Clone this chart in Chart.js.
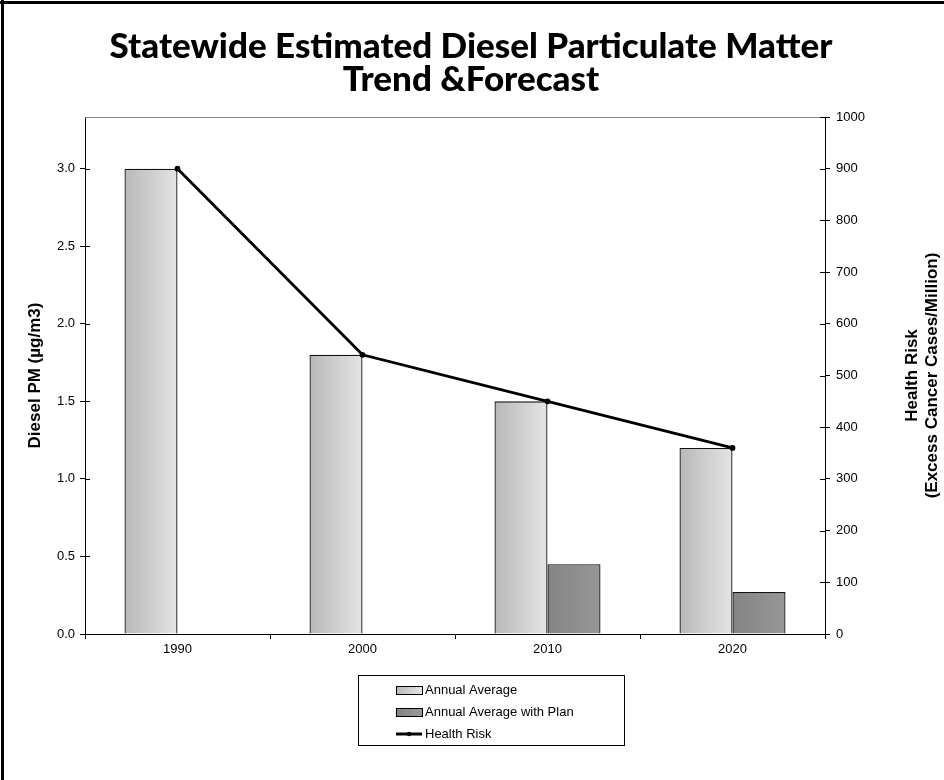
<!DOCTYPE html>
<html>
<head>
<meta charset="utf-8">
<script src="https://cdn.jsdelivr.net/npm/chart.js@4.4.1/dist/chart.umd.min.js"></script>
<style>
  html, body { margin: 0; padding: 0; background: #fff; }
  #wrap { position: relative; width: 944px; height: 780px; }
</style>
</head>
<body>
<div id="wrap"><canvas id="dpmChart"></canvas></div>
<script>
// chart data
const years = ['1990', '2000', '2010', '2020'];
const annualAverage = [3.0, 1.8, 1.5, 1.2];
const annualAverageWithPlan = [null, null, 0.45, 0.27];
const healthRisk = [900, 540, 450, 360];
const pmTicks = [0, 0.5, 1.0, 1.5, 2.0, 2.5, 3.0];
const titleLines = ['Statewide Estimated Diesel Particulate Matter', 'Trend &Forecast'];

const FONT = "'Liberation Sans', Arial, sans-serif";

// horizontal grey gradient on every bar
const barGradient = {
  id: 'barGradient',
  beforeDatasetsDraw(chart) {
    const ctx = chart.ctx;
    [[0, '#b8b8b8', '#e4e4e4'], [1, '#848484', '#979797']].forEach(([di, c1, c2]) => {
      chart.getDatasetMeta(di).data.forEach(bar => {
        const g = ctx.createLinearGradient(bar.x - bar.width / 2, 0, bar.x + bar.width / 2, 0);
        g.addColorStop(0, c1);
        g.addColorStop(1, c2);
        bar.options.backgroundColor = g;
      });
    });
  }
};

// frame, title, plot top line, crossing ticks, axis titles and legend
const decorations = {
  id: 'decorations',
  afterDraw(chart) {
    const ctx = chart.ctx;
    const a = chart.chartArea;
    ctx.save();

    // outer frame (top + left only, like the source)
    ctx.fillStyle = '#000';
    ctx.fillRect(0, 1, 944, 3);
    ctx.fillRect(1, 0, 3, 780);

    // chart title
    ctx.font = '900 35px Lato, ' + FONT;
    ctx.textAlign = 'center';
    ctx.textBaseline = 'middle';
    ctx.fillText(titleLines[0], 471, 47);
    ctx.fillText(titleLines[1], 471, 80);

    // grey top edge of the plot area
    ctx.strokeStyle = '#8a8a8a';
    ctx.lineWidth = 1;
    ctx.beginPath();
    ctx.moveTo(a.left, Math.round(a.top) + 0.5);
    ctx.lineTo(a.right, Math.round(a.top) + 0.5);
    ctx.stroke();

    // inward half of the y tick marks
    ctx.strokeStyle = '#000';
    ['y', 'y2'].forEach(id => {
      const s = chart.scales[id];
      const x = id === 'y' ? a.left : a.right;
      const dir = id === 'y' ? 1 : -1;
      s.ticks.forEach(t => {
        const py = Math.round(s.getPixelForValue(t.value)) + 0.5;
        ctx.beginPath();
        ctx.moveTo(x, py);
        ctx.lineTo(x + dir * 5, py);
        ctx.stroke();
      });
    });

    // axis titles
    const midY = (a.top + a.bottom) / 2;
    ctx.fillStyle = '#000';
    ctx.font = 'bold 17px ' + FONT;
    ctx.save();
    ctx.translate(35, midY);
    ctx.rotate(-Math.PI / 2);
    ctx.fillText('Diesel PM (µg/m3)', 0, 0);
    ctx.restore();
    ctx.save();
    ctx.translate(912, midY);
    ctx.rotate(-Math.PI / 2);
    ctx.fillText('Health Risk', 0, 0);
    ctx.fillText('(Excess Cancer Cases/Million)', 0, 20);
    ctx.restore();

    // legend box
    const lx = 358, ly = 675, lw = 266, lh = 70;
    ctx.fillStyle = '#fff';
    ctx.fillRect(lx, ly, lw, lh);
    ctx.strokeStyle = '#000';
    ctx.strokeRect(lx + 0.5, ly + 0.5, lw, lh);
    const rows = [690, 712, 734];
    const sx = 396, sw = 26;
    ctx.font = '13px ' + FONT;
    ctx.textAlign = 'left';
    chart.data.datasets.forEach((ds, i) => {
      const y = rows[i];
      if (ds.type === 'line') {
        ctx.strokeStyle = '#000';
        ctx.lineWidth = 3;
        ctx.beginPath();
        ctx.moveTo(sx, y);
        ctx.lineTo(sx + sw, y);
        ctx.stroke();
        ctx.fillStyle = '#000';
        ctx.beginPath();
        ctx.arc(sx + sw / 2, y, 2.2, 0, Math.PI * 2);
        ctx.fill();
      } else {
        const g = ctx.createLinearGradient(sx, 0, sx + sw, 0);
        if (i === 0) { g.addColorStop(0, '#b8b8b8'); g.addColorStop(1, '#e4e4e4'); }
        else { g.addColorStop(0, '#848484'); g.addColorStop(1, '#979797'); }
        ctx.fillStyle = g;
        ctx.fillRect(sx, y - 4, sw, 8);
        ctx.strokeStyle = '#000';
        ctx.lineWidth = 1;
        ctx.strokeRect(sx + 0.5, y - 4 + 0.5, sw, 8);
      }
      ctx.fillStyle = '#000';
      ctx.fillText(ds.label, sx + sw + 3, y);
    });

    ctx.restore();
  }
};

const ctx = document.getElementById('dpmChart').getContext('2d');
const dpmChart = new Chart(ctx, {
  type: 'bar',
  data: {
    labels: years,
    datasets: [
      {
        label: 'Annual Average',
        data: annualAverage,
        backgroundColor: () => '#d0d0d0',
        borderColor: '#111',
        borderWidth: 1.3,
        borderSkipped: 'bottom',
        yAxisID: 'y',
        order: 2
      },
      {
        label: 'Annual Average with Plan',
        data: annualAverageWithPlan,
        backgroundColor: () => '#8c8c8c',
        borderColor: '#111',
        borderWidth: 1.3,
        borderSkipped: 'bottom',
        yAxisID: 'y',
        order: 2
      },
      {
        type: 'line',
        label: 'Health Risk',
        data: healthRisk,
        borderColor: '#000',
        borderWidth: 2.8,
        pointRadius: 1.5,
        pointBackgroundColor: '#000',
        pointBorderColor: '#000',
        tension: 0,
        yAxisID: 'y2',
        order: 0
      }
    ]
  },
  options: {
    responsive: true,
    maintainAspectRatio: false,
    animation: false,
    datasets: {
      bar: { categoryPercentage: 0.573, barPercentage: 1.0 }
    },
    layout: { padding: { top: 117, left: 10, right: 60, bottom: 116 } },
    scales: {
      x: {
        grid: { drawOnChartArea: false, tickLength: 5, color: '#000', offset: true },
        border: { color: '#000' },
        ticks: { color: '#000', font: { family: FONT, size: 13 }, padding: 3 },
        afterFit(s) { s.height = 30; }
      },
      y: {
        position: 'left',
        min: 0,
        max: 1000 / 300,
        afterBuildTicks(s) { s.ticks = pmTicks.map(v => ({ value: v })); },
        grid: { drawOnChartArea: false, tickLength: 5, color: '#000' },
        border: { color: '#000' },
        ticks: {
          color: '#000',
          font: { family: FONT, size: 13 },
          padding: 5,
          callback: v => v.toFixed(1)
        },
        afterFit(s) { s.width = 75; }
      },
      y2: {
        position: 'right',
        min: 0,
        max: 1000,
        grid: { drawOnChartArea: false, tickLength: 5, color: '#000' },
        border: { color: '#000' },
        ticks: {
          color: '#000',
          font: { family: FONT, size: 13 },
          padding: 6,
          stepSize: 100,
          callback: v => String(v)
        },
        afterFit(s) { s.width = 59; }
      }
    },
    plugins: {
      legend: { display: false },
      tooltip: { enabled: false },
      title: { display: false }
    }
  },
  plugins: [barGradient, decorations]
});
</script>
</body>
</html>
